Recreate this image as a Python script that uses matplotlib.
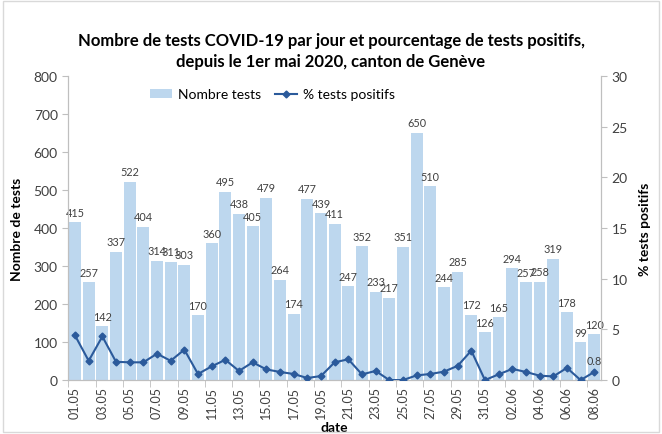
import matplotlib.pyplot as plt
from matplotlib.lines import Line2D
from matplotlib.patches import Patch
import numpy as np

plt.rcParams['font.family'] = ['Lato', 'DejaVu Sans']

dates = ['01.05', '02.05', '03.05', '04.05', '05.05', '06.05', '07.05', '08.05', '09.05', '10.05',
         '11.05', '12.05', '13.05', '14.05', '15.05', '16.05', '17.05', '18.05', '19.05', '20.05',
         '21.05', '22.05', '23.05', '24.05', '25.05', '26.05', '27.05', '28.05', '29.05', '30.05',
         '31.05', '01.06', '02.06', '03.06', '04.06', '05.06', '06.06', '07.06', '08.06']
nb_tests = [415, 257, 142, 337, 522, 404, 314, 311, 303, 170,
            360, 495, 438, 405, 479, 264, 174, 477, 439, 411,
            247, 352, 233, 217, 351, 650, 510, 244, 285, 172,
            126, 165, 294, 257, 258, 319, 178, 99, 120]
pct_pos = [4.4, 1.9, 4.3, 1.8, 1.75, 1.75, 2.6, 1.9, 3.0, 0.6,
           1.35, 2.0, 0.9, 1.75, 1.05, 0.8, 0.6, 0.2, 0.4, 1.75,
           2.05, 0.56, 0.9, 0.0, 0.0, 0.46, 0.6, 0.83, 1.4, 2.9,
           0.0, 0.56, 1.1, 0.8, 0.43, 0.36, 1.2, 0.0, 0.8]

bar_col = '#BDD7EE'
line_col = '#2B5A9B'
txt_col = '#404040'
spine_col = '#BFBFBF'

fig = plt.figure(figsize=(6.62, 4.35), dpi=100)
fig.patches.append(plt.Rectangle((0.005, 0.005), 0.99, 0.99, transform=fig.transFigure,
                                 fill=False, edgecolor='#D9D9D9', linewidth=1))
ax = fig.add_axes([0.103, 0.124, 0.805, 0.699])
ax2 = ax.twinx()

x = np.arange(len(dates))
ax.bar(x, nb_tests, width=0.86, color=bar_col, zorder=1)
for xi, v in zip(x, nb_tests):
    ax.text(xi, v + 12, str(v), ha='center', va='bottom', fontsize=7.8, color=txt_col)

ax2.plot(x, pct_pos, color=line_col, linewidth=1.5, marker='D', markersize=3.5, zorder=3)
ax2.text(x[-1], pct_pos[-1] + 0.6, '0.8', ha='center', va='bottom', fontsize=7.8, color=txt_col)

ax.set_xlim(-0.5, len(dates) - 0.5)
ax.set_ylim(0, 800)
ax.set_yticks(range(0, 801, 100))
ax2.set_ylim(0, 30)
ax2.set_yticks(range(0, 31, 5))

ax.set_xticks(x[::2])
ax.set_xticklabels(dates[::2], rotation=90, fontsize=9, color=txt_col)
ax.set_xticks(np.arange(-0.5, len(dates), 2), minor=True)
ax.tick_params(axis='x', which='major', length=0, pad=4)
ax.tick_params(axis='x', which='minor', length=5, color=spine_col)
ax.tick_params(axis='y', labelsize=10, colors=txt_col, length=4, color=spine_col)
ax2.tick_params(axis='y', labelsize=10, colors=txt_col, length=4, color=spine_col)

for a in (ax, ax2):
    a.spines['top'].set_visible(False)
    a.spines['left'].set_color(spine_col)
    a.spines['right'].set_color(spine_col)
    a.spines['bottom'].set_color(spine_col)
ax.set_zorder(ax2.get_zorder() - 1)
ax2.patch.set_visible(False)

ax.set_ylabel('Nombre de tests', fontsize=10, fontweight='bold', labelpad=8)
ax2.set_ylabel('% tests positifs', fontsize=10, fontweight='bold', labelpad=8)
ax.set_xlabel('date', fontsize=10, fontweight='bold', labelpad=2)

fig.suptitle('Nombre de tests COVID-19 par jour et pourcentage de tests positifs,\n'
             'depuis le 1er mai 2020, canton de Genève',
             fontsize=12, fontweight='bold', y=0.925, linespacing=1.45)

handles = [Patch(facecolor=bar_col, label='Nombre tests'),
           Line2D([], [], color=line_col, marker='D', markersize=3.5, linewidth=1.5,
                  label='% tests positifs')]
ax2.legend(handles=handles, loc='upper left', bbox_to_anchor=(0.13, 1.0), ncol=2,
           frameon=False, fontsize=10, handlelength=1.6, handletextpad=0.4,
           columnspacing=1.0)

fig.savefig('out.png', dpi=100)
